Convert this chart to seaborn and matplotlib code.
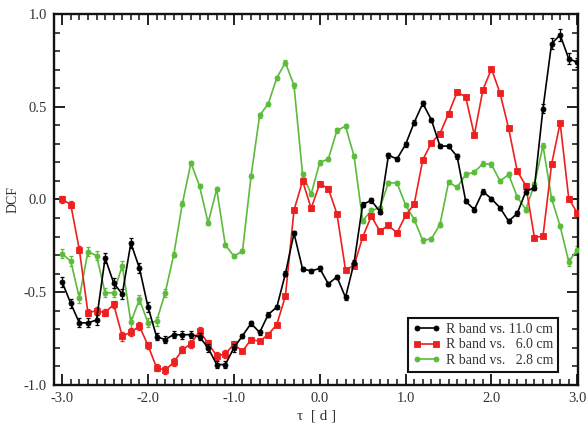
import numpy as np
import pandas as pd
import matplotlib
matplotlib.use("Agg")
import matplotlib.pyplot as plt
import seaborn as sns
from matplotlib.ticker import MultipleLocator

# Time lag grid (days)
tau = [-3.0, -2.9, -2.8, -2.7, -2.6, -2.5, -2.4, -2.3, -2.2, -2.1,
       -2.0, -1.9, -1.8, -1.7, -1.6, -1.5, -1.4, -1.3, -1.2, -1.1,
       -1.0, -0.9, -0.8, -0.7, -0.6, -0.5, -0.4, -0.3, -0.2, -0.1,
       0.0, 0.1, 0.2, 0.3, 0.4, 0.5, 0.6, 0.7, 0.8, 0.9,
       1.0, 1.1, 1.2, 1.3, 1.4, 1.5, 1.6, 1.7, 1.8, 1.9,
       2.0, 2.1, 2.2, 2.3, 2.4, 2.5, 2.6, 2.7, 2.8, 2.9, 3.0]

# DCF: R band vs. 11.0 cm
dcf_110 = [-0.445, -0.56, -0.665, -0.665, -0.65, -0.315, -0.45, -0.51, -0.235, -0.37,
           -0.58, -0.74, -0.755, -0.728, -0.73, -0.728, -0.74, -0.80, -0.89, -0.89,
           -0.80, -0.735, -0.668, -0.717, -0.62, -0.58, -0.40, -0.182, -0.375, -0.385,
           -0.372, -0.455, -0.417, -0.528, -0.34, -0.027, -0.005, -0.065, 0.238, 0.219,
           0.297, 0.415, 0.518, 0.43, 0.288, 0.288, 0.232, -0.009, -0.055, 0.043,
           0.004, -0.045, -0.117, -0.075, 0.043, 0.064, 0.49, 0.84, 0.887, 0.758, 0.74]

# DCF: R band vs. 6.0 cm
dcf_60 = [0.0, -0.027, -0.27, -0.61, -0.60, -0.61, -0.566, -0.737, -0.715, -0.683,
          -0.787, -0.907, -0.92, -0.877, -0.81, -0.778, -0.71, -0.775, -0.843, -0.833,
          -0.78, -0.818, -0.755, -0.764, -0.728, -0.674, -0.521, -0.058, 0.10, -0.048,
          0.085, 0.059, -0.077, -0.379, -0.356, -0.203, -0.09, -0.17, -0.14, -0.18,
          -0.085, -0.025, 0.214, 0.305, 0.355, 0.463, 0.579, 0.553, 0.347, 0.591,
          0.704, 0.573, 0.383, 0.153, 0.075, -0.205, -0.198, 0.19, 0.413, 0.005, -0.073]

# DCF: R band vs. 2.8 cm
dcf_28 = [-0.293, -0.332, -0.53, -0.282, -0.302, -0.503, -0.503, -0.356, -0.661, -0.539,
          -0.665, -0.656, -0.503, -0.297, -0.022, 0.198, 0.072, -0.126, 0.056, -0.245,
          -0.305, -0.279, 0.126, 0.453, 0.516, 0.656, 0.738, 0.615, 0.135, 0.03,
          0.199, 0.218, 0.372, 0.395, 0.233, -0.115, -0.059, -0.045, 0.09, 0.089,
          -0.03, -0.108, -0.221, -0.212, -0.135, 0.093, 0.066, 0.135, 0.147, 0.194,
          0.189, 0.099, 0.135, 0.014, -0.054, 0.081, 0.29, 0.005, -0.144, -0.336, -0.27]

# DCF uncertainties
err_110 = [0.025, 0.025, 0.025, 0.025, 0.025, 0.025, 0.025, 0.025, 0.025, 0.025,
           0.025, 0.02, 0.02, 0.02, 0.02, 0.02, 0.02, 0.02, 0.02, 0.02,
           0.02, 0.012, 0.012, 0.012, 0.012, 0.012, 0.012, 0.012, 0.012, 0.012,
           0.012, 0.012, 0.012, 0.012, 0.012, 0.012, 0.012, 0.012, 0.012, 0.012,
           0.012, 0.012, 0.012, 0.012, 0.012, 0.012, 0.012, 0.012, 0.012, 0.012,
           0.012, 0.012, 0.012, 0.012, 0.012, 0.015, 0.025, 0.03, 0.03, 0.03, 0.025]
err_60 = [0.02, 0.02, 0.02, 0.02, 0.02, 0.02, 0.02, 0.025, 0.02, 0.02,
          0.02, 0.02, 0.02, 0.02, 0.02, 0.02, 0.02, 0.02, 0.02, 0.02,
          0.015, 0.012, 0.012, 0.012, 0.012, 0.012, 0.012, 0.012, 0.012, 0.012,
          0.012, 0.012, 0.012, 0.012, 0.012, 0.012, 0.012, 0.012, 0.012, 0.012,
          0.012, 0.012, 0.012, 0.012, 0.012, 0.012, 0.012, 0.012, 0.012, 0.012,
          0.012, 0.012, 0.012, 0.012, 0.012, 0.012, 0.012, 0.012, 0.012, 0.012, 0.012]
err_28 = [0.025, 0.025, 0.03, 0.025, 0.025, 0.025, 0.025, 0.025, 0.03, 0.025,
          0.025, 0.025, 0.02, 0.012, 0.012, 0.012, 0.012, 0.012, 0.012, 0.012,
          0.012, 0.012, 0.012, 0.012, 0.012, 0.012, 0.012, 0.012, 0.012, 0.012,
          0.012, 0.012, 0.012, 0.012, 0.012, 0.012, 0.012, 0.012, 0.012, 0.012,
          0.012, 0.012, 0.012, 0.012, 0.012, 0.012, 0.012, 0.012, 0.012, 0.012,
          0.012, 0.012, 0.012, 0.012, 0.012, 0.012, 0.012, 0.012, 0.012, 0.02, 0.02]

labels = ["R band vs. 11.0 cm", "R band vs.   6.0 cm", "R band vs.   2.8 cm"]
colors = ["#000000", "#ee1f1f", "#5cbb3c"]
markers = ["o", "s", "o"]
msizes = [3.6, 4.6, 3.6]

sns.set_theme(style="ticks")
plt.rcParams["font.family"] = ["Liberation Serif", "DejaVu Serif"]

fig = plt.figure(figsize=(5.87, 4.24), dpi=100)
ax = fig.add_axes([0.092, 0.092, 0.893, 0.875])

series = [(dcf_110, err_110), (dcf_60, err_60), (dcf_28, err_28)]
order = [2, 1, 0]  # green underneath, black on top
for i in order:
    vals, errs = series[i]
    df = pd.DataFrame({"tau": tau, "dcf": vals})
    ax.errorbar(tau, vals, yerr=errs, fmt="none", ecolor=colors[i],
                elinewidth=0.9, capsize=1.6, capthick=0.9, zorder=2 + (2 - i))
    sns.lineplot(data=df, x="tau", y="dcf", ax=ax, color=colors[i],
                 marker=markers[i], markersize=msizes[i], markeredgewidth=0.6,
                 markeredgecolor=colors[i], linewidth=1.2, label=labels[i],
                 zorder=3 + (2 - i))

ax.set_xlim(-3.095, 3.01)
ax.set_ylim(-1.0, 1.0)
ax.xaxis.set_major_locator(MultipleLocator(1.0))
ax.xaxis.set_minor_locator(MultipleLocator(0.1))
ax.yaxis.set_major_locator(MultipleLocator(0.5))
ax.yaxis.set_minor_locator(MultipleLocator(0.1))
ax.xaxis.set_major_formatter(matplotlib.ticker.FormatStrFormatter("%.1f"))
ax.yaxis.set_major_formatter(matplotlib.ticker.FormatStrFormatter("%.1f"))

ax.tick_params(which="both", direction="in", top=True, right=True,
               colors="#111111", labelcolor="#333333", labelsize=10.5)
ax.tick_params(which="major", length=8, width=1.3, pad=5)
ax.tick_params(which="minor", length=4.5, width=1.1)
for sp in ax.spines.values():
    sp.set_linewidth(1.7)
    sp.set_color("#111111")

ax.set_xlabel("τ  [ d ]", fontsize=11, color="#333333", labelpad=3)
ax.set_ylabel("DCF", fontsize=10, color="#333333", labelpad=3)

handles, labs = ax.get_legend_handles_labels()
hl = dict(zip(labs, handles))
leg = ax.legend([hl[l] for l in labels], labels, loc="lower right",
                bbox_to_anchor=(0.962, 0.035), frameon=True, fancybox=False,
                edgecolor="#111111", numpoints=2, handlelength=2.0,
                labelspacing=0.2, borderpad=0.35, handletextpad=0.4,
                fontsize=10, borderaxespad=0.0)
leg.get_frame().set_linewidth(1.5)
leg.get_frame().set_facecolor("white")
leg.get_frame().set_alpha(1.0)
for t in leg.get_texts():
    t.set_color("#333333")

fig.savefig("out.png", dpi=100)
